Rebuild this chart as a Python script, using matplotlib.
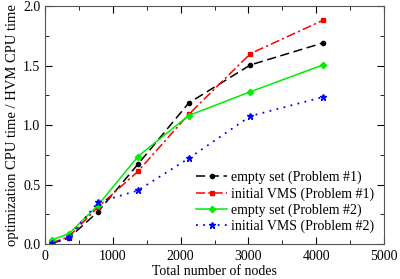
import matplotlib
matplotlib.use('Agg')
import matplotlib.pyplot as plt
from matplotlib.ticker import MultipleLocator
from matplotlib.legend_handler import HandlerLine2D

plt.rcParams['font.family'] = 'Liberation Serif'
plt.rcParams['font.size'] = 10

# total number of nodes
nodes = [100, 350, 780, 1370, 2120, 3030, 4100]

# optimization CPU time / HVM CPU time
empty_p1 = [0.005, 0.05, 0.27, 0.67, 1.185, 1.505, 1.69]
vms_p1 = [0.01, 0.06, 0.31, 0.61, 1.09, 1.60, 1.88]
empty_p2 = [0.035, 0.085, 0.325, 0.735, 1.08, 1.28, 1.505]
vms_p2 = [0.005, 0.055, 0.35, 0.45, 0.72, 1.075, 1.235]

labels = ['empty set (Problem #1)', 'initial VMS (Problem #1)',
          'empty set (Problem #2)', 'initial VMS (Problem #2)']


class EndMarker(HandlerLine2D):
    # marker at the right end of the legend line, like xmgrace does
    def get_xdata(self, legend, xdescent, ydescent, width, height, fontsize):
        xdata = [-xdescent, -xdescent + width]
        return xdata, [-xdescent + width]


fig = plt.figure(figsize=(4.0, 2.79), dpi=100)
ax = fig.add_axes([0.1125, 0.1254, 0.8475, 0.853])

l1, = ax.plot(nodes, empty_p1, color='black', linestyle=(0, (6, 3)), lw=1.1,
              marker='o', ms=3, label=labels[0])
l2, = ax.plot(nodes, vms_p1, color='red', linestyle=(0, (6, 2, 1.5, 2)), lw=1.1,
              marker='s', ms=3, label=labels[1])
l3, = ax.plot(nodes, empty_p2, color='#00ee00', linestyle='-', lw=1.1,
              marker='D', ms=3.2, label=labels[2])
l4, = ax.plot(nodes, vms_p2, color='blue', linestyle=(0, (1, 3)), lw=1.3,
              marker='*', ms=4.5, label=labels[3])

ax.set_xlim(0, 5000)
ax.set_ylim(0, 2.0)
ax.xaxis.set_major_locator(MultipleLocator(1000))
ax.xaxis.set_minor_locator(MultipleLocator(500))
ax.yaxis.set_major_locator(MultipleLocator(0.5))
ax.yaxis.set_minor_locator(MultipleLocator(0.25))
ax.yaxis.set_major_formatter(plt.FuncFormatter(lambda v, p: '%.1f' % v))
ax.tick_params(which='both', direction='in', top=True, right=True)
ax.tick_params(which='major', length=5)
ax.tick_params(which='minor', length=3)
ax.tick_params(axis='x', pad=4)
for s in ax.spines.values():
    s.set_color('#555555')

ax.set_xlabel('Total number of nodes', labelpad=1.5)
ax.set_ylabel('optimization CPU time / HVM CPU time', labelpad=3, fontsize=10.5)

hm = {l: EndMarker(numpoints=1) for l in (l1, l2, l3, l4)}
ax.legend(loc='lower right', frameon=False, handlelength=2.2,
          handletextpad=0.3, labelspacing=0.2, borderaxespad=0.3,
          bbox_to_anchor=(1.0, 0.005), handler_map=hm)

fig.savefig('out.png', dpi=100)
